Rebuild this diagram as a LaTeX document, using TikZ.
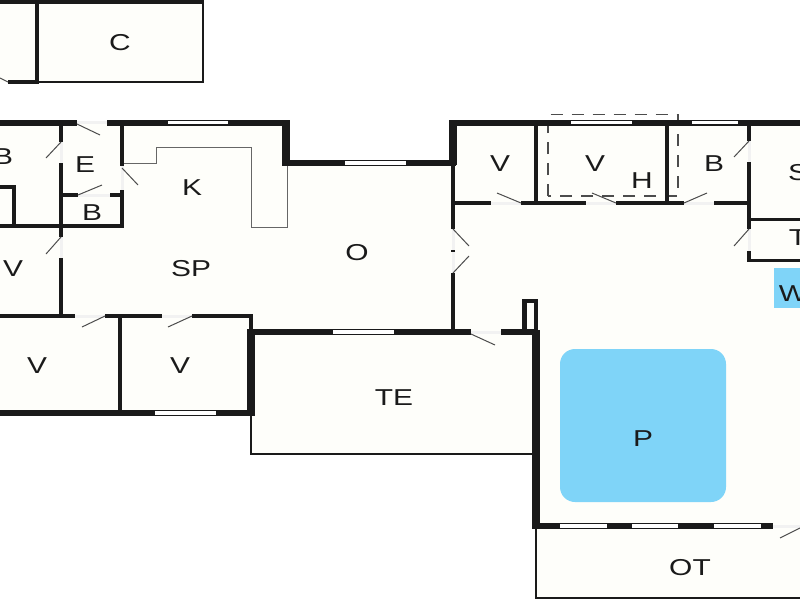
\documentclass[tikz,border=0pt]{standalone}
\usepackage{xcolor}
\usepackage{fontspec}
\setmainfont{Liberation Sans}
\definecolor{wallcol}{HTML}{1A1A1A}
\definecolor{floorcol}{HTML}{FEFEFA}
\definecolor{poolcol}{HTML}{7FD4F8}
\tikzset{
    wall/.style={draw=wallcol, line width=4.6pt},
    heavywall/.style={draw=wallcol, line width=8pt},
    thinwall/.style={draw=wallcol, line width=2pt},
    counter/.style={draw=black!60, line width=1pt},
    leaf/.style={draw=black!70, line width=1pt},
    pane/.style={draw=white, line width=3.2pt},
    sill/.style={draw=black!5, line width=3pt},
    outline/.style={draw=black!70, dash pattern=on 12pt off 9pt, line width=1.1pt},
    room/.style={text=wallcol, font=\fontsize{23}{23}\selectfont, xscale=1.3, yshift=-1pt, inner sep=0pt}
}
\begin{document}
\begin{tikzpicture}[x=1pt, y=-1pt]
    \useasboundingbox (0,0) rectangle (800,600);
    \clip (0,0) rectangle (800,600);
    \fill[white] (0,0) rectangle (800,600);

    % floors
    \fill[floorcol] (0,0) -- (203,0) -- (203,82) -- (0,82) -- cycle;
    \fill[floorcol] (0,122) -- (286,122) -- (286,163) -- (453,163) -- (453,122) -- (800,122) -- (800,260) -- (750,260) -- (750,300) -- (536,300) -- (536,453) -- (251,453) -- (251,413) -- (0,413) -- cycle;
    \fill[floorcol] (453,203) rectangle (750,332);
    \fill[floorcol] (536,260) rectangle (800,598);
    \fill[poolcol] (774,268) rectangle (800,308);
    \fill[poolcol, rounded corners=15pt] (560,349) rectangle (726,502);

    % kitchen counter and hidden outline
    \draw[counter] (122,163) -- (156,163) -- (156,147) -- (251,147) -- (251,227) -- (287,227) -- (287,165);
    \draw[outline] (548,196) -- (548,114.5) -- (678,114.5) -- (678,196) -- cycle;

    % door sills
    \foreach \sa/\sb/\sc/\sd in {77/122.5/107/122.5, 61/142/61/163, 122/166/122/190, 78/195/110/195, 61/237/61/258, 75/316/105/316, 162/316/192/316, 471/332/501/332, 453/229/453/273, 491/203/521/203, 586/203/616/203, 684/203/714/203, 749/141/749/162, 749/229/749/251, 773/526/800/526}
        \draw[sill] (\sa,\sb) -- (\sc,\sd);

    % outbuilding
    \draw[wall, line width=5.5pt] (0,1.5) -- (203,1.5);
    \draw[thinwall] (203,0) -- (203,82) -- (37,82);
    \draw[wall] (37,0) -- (37,84);
    \draw[wall] (8,82) -- (38,82);
    \draw[leaf] (0,78) -- (8,82);

    % left wing
    \draw[wall, line width=6pt] (0,122.5) -- (77,122.5);
    \draw[wall, line width=6pt] (107,122.5) -- (290,122.5);
    \draw[heavywall] (286,120) -- (286,166);
    \draw[wall, line width=5.5pt] (282,163) -- (456,163);
    \draw[wall] (122,122) -- (122,166);
    \draw[wall] (122,190) -- (122,228);
    \draw[wall, line width=3.5pt] (0,226) -- (124,226);
    \draw[wall] (61,122) -- (61,142);
    \draw[wall] (61,163) -- (61,237);
    \draw[wall] (61,258) -- (61,316);
    \draw[wall, line width=3.5pt] (61,195) -- (78,195);
    \draw[wall, line width=3.5pt] (110,195) -- (122,195);
    \draw[wall] (0,187) -- (14,187) -- (14,226);
    \draw[wall, line width=3.5pt] (0,316) -- (75,316);
    \draw[wall, line width=3.5pt] (105,316) -- (162,316);
    \draw[wall, line width=3.5pt] (192,316) -- (253,316);
    \draw[wall] (120,316) -- (120,413);
    \draw[wall, line width=5.5pt] (0,413) -- (253,413);
    \draw[wall] (251,316) -- (251,332);
    \draw[heavywall] (251,330) -- (251,416);

    % terrace
    \draw[wall, line width=5.5pt] (247,332) -- (471,332);
    \draw[wall, line width=5.5pt] (501,332) -- (537,332);
    \draw[thinwall] (251,415) -- (251,453.5) -- (532,453.5);
    \draw[heavywall] (536,330) -- (536,529);
    \draw[wall] (524.5,332) -- (524.5,301) -- (536,301) -- (536,332);

    % right wing
    \draw[heavywall] (453,120) -- (453,165);
    \draw[wall, line width=6pt] (449,122.5) -- (800,122.5);
    \draw[wall] (453,165) -- (453,229);
    \draw[wall] (453,273) -- (453,332);
    \draw[wall, line width=1.5pt] (451,251) -- (455,251);
    \draw[wall, line width=3.5pt] (453,203) -- (491,203);
    \draw[wall, line width=3.5pt] (521,203) -- (586,203);
    \draw[wall, line width=3.5pt] (616,203) -- (684,203);
    \draw[wall, line width=3.5pt] (714,203) -- (750,203);
    \draw[wall] (536,122) -- (536,203);
    \draw[wall] (667,122) -- (667,203);
    \draw[wall] (749,122) -- (749,141);
    \draw[wall] (749,162) -- (749,229);
    \draw[wall] (749,251) -- (749,262);
    \draw[wall, line width=3pt] (749,219) -- (800,219);
    \draw[wall, line width=3pt] (748,260) -- (800,260);

    % pool side and lower terrace
    \draw[wall, line width=5.5pt] (533,526) -- (773,526);
    \draw[thinwall] (536,529) -- (536,598) -- (800,598);
    \draw[leaf] (800,528) -- (780,538);

    % windows
    \foreach \wa/\wb/\wy in {168/228/122.5, 571/632/122.5, 692/738/122.5, 345/406/163, 155/216/413, 333/394/332, 560/607/526, 632/678/526, 714/761/526}
        \draw[pane] (\wa,\wy) -- (\wb,\wy);

    % door leaves
    \draw[leaf] (77,124) -- (100,135);
    \draw[leaf] (61,142) -- (46,158);
    \draw[leaf] (122,168) -- (138,185);
    \draw[leaf] (78,195) -- (102,185);
    \draw[leaf] (61,237) -- (46,254);
    \draw[leaf] (105,316) -- (82,327);
    \draw[leaf] (192,316) -- (168,327);
    \draw[leaf] (471,334) -- (495,345);
    \draw[leaf] (453,229) -- (469,246);
    \draw[leaf] (453,273) -- (469,256);
    \draw[leaf] (521,203) -- (497,193);
    \draw[leaf] (616,203) -- (592,193);
    \draw[leaf] (684,203) -- (707,193);
    \draw[leaf] (749,141) -- (734,157);
    \draw[leaf] (749,229) -- (734,246);

    % rooms
    \node[room] (carport) at (120,42) {C};
    \node[room] (bathone) at (3,156) {B};
    \node[room] (entry) at (85,164) {E};
    \node[room] (bathtwo) at (92,212) {B};
    \node[room] (kitchen) at (192,187) {K};
    \node[room] (dining) at (191,268) {SP};
    \node[room] (living) at (357,252) {O};
    \node[room] (bedone) at (13,268) {V};
    \node[room] (bedtwo) at (37,365) {V};
    \node[room] (bedthree) at (180,365) {V};
    \node[room] (terrace) at (394,397) {TE};
    \node[room] (bedfour) at (500,163) {V};
    \node[room] (bedfive) at (595,163) {V};
    \node[room] (hems) at (642,180) {H};
    \node[room] (baththree) at (714,163) {B};
    \node[room] (sauna) at (798,172) {S};
    \node[room] (toilet) at (798,237) {T};
    \node[room] (whirl) at (793,293) {W};
    \node[room] (pool) at (643,438) {P};
    \node[room] (outer) at (690,567) {OT};
\end{tikzpicture}
\end{document}
